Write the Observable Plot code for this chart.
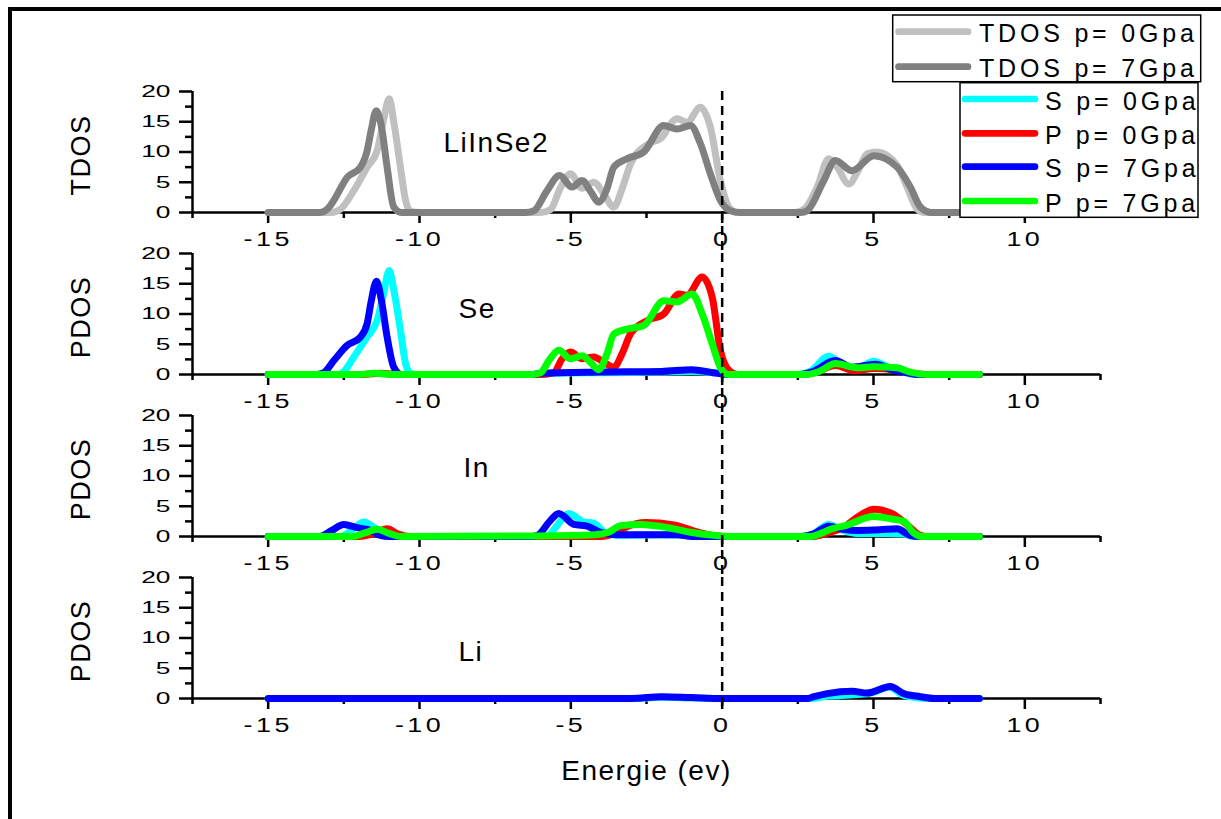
<!DOCTYPE html>
<html><head><meta charset="utf-8">
<script src="https://cdn.jsdelivr.net/npm/d3@7"></script>
<script src="https://cdn.jsdelivr.net/npm/@observablehq/plot@0.6"></script>
<style>
html,body{margin:0;padding:0;background:#fff;}
#wrap{position:relative;width:1221px;height:819px;overflow:hidden;background:#fff;font-family:"Liberation Sans",Arial,sans-serif;}
.panel{position:absolute;left:0;}
.panel g[aria-label="x-axis tick label"]{font-size:19.5px;letter-spacing:2.5px;}
.panel g[aria-label="y-axis tick label"]{font-size:17px;letter-spacing:0px;}
.frameTop{position:absolute;left:8px;top:7px;width:1213px;height:4px;background:#000;}
.frameLeft{position:absolute;left:8px;top:7px;width:4px;height:812px;background:#000;}
#legend{position:absolute;left:0;top:0;}
</style></head><body><div id="wrap"><div class="frameTop"></div><div class="frameLeft"></div></div>
<script>
// ---- tick values ----
const energyTicks = [-15, -10, -5, 0, 5, 10];
const energyMinorTicks = [-17.5, -12.5, -7.5, -2.5, 2.5, 7.5, 12.5];
const dosTicks = [0, 5, 10, 15, 20];
const dosMinorTicks = [2.5, 7.5, 12.5, 17.5];
const panelNames = ["LiInSe2", "Se", "In", "Li"];
const panelAxisTitles = ["TDOS", "PDOS", "PDOS", "PDOS"];
const xTitle = "Energie (ev)";
const seriesNames = ["TDOS p= 0Gpa", "TDOS p= 7Gpa", "S p= 0Gpa", "P p= 0Gpa", "S p= 7Gpa", "P p= 7Gpa"];

// ---- series: [energy (eV), DOS] ----
const tdos0 = [[-15,0],[-12.9,0],[-12.6,0.6],[-12.17,3.6],[-11.73,7.5],[-11.4,10.2],[-11.2,15],[-11.0,18.8],[-10.85,15],[-10.63,7.5],[-10.46,2],[-10.3,0.2],[-10.0,0],[-6.0,0],[-5.67,0.5],[-5.35,4],[-5.01,6.4],[-4.63,4],[-4.24,5.0],[-3.9,3],[-3.58,0.9],[-3.3,4],[-3.03,8.0],[-2.42,11.4],[-2.04,12.2],[-1.49,15.5],[-1.16,14.9],[-0.72,17.4],[-0.39,14.1],[-0.06,5.3],[0.22,0.9],[0.5,0],[2.4,0],[2.7,0.5],[3.14,4.2],[3.52,8.9],[3.8,7.5],[4.18,4.7],[4.5,7],[4.79,9.7],[5.12,10.0],[5.78,7.8],[6.11,4.2],[6.44,0.6],[6.7,0],[8.5,0]];
const tdos7 = [[-15,0],[-13.3,0],[-13.0,0.8],[-12.83,2],[-12.39,5.8],[-11.95,7.5],[-11.73,10.2],[-11.6,13.5],[-11.43,16.8],[-11.25,14],[-11.07,7.5],[-10.85,0.9],[-10.6,0],[-6.5,0],[-6.22,0.3],[-5.8,3.5],[-5.37,6.1],[-4.96,4.2],[-4.63,5.3],[-4.35,3.5],[-4.08,1.7],[-3.8,4],[-3.58,7.5],[-3.14,8.9],[-2.59,10.0],[-1.93,14.4],[-1.49,13.8],[-1.05,14.4],[-0.72,11.4],[-0.39,6.4],[-0.06,2],[0.27,0.3],[0.6,0],[2.6,0],[2.81,0.3],[3.36,5.3],[3.74,8.6],[4.29,6.9],[5.01,9.4],[5.78,7.5],[6.22,4.2],[6.55,0.9],[6.9,0],[8.5,0]];

const seS0 = [[-15,0],[-12.7,0],[-12.5,0.5],[-12.17,2.9],[-11.73,6.2],[-11.4,8.9],[-11.2,13],[-11.0,17.2],[-10.85,14],[-10.63,7.3],[-10.46,1.8],[-10.3,0.2],[-10.0,0],[-6,0],[-5.5,0.2],[-4,0.3],[-2,0.4],[-1,0.5],[0,0.2],[0.5,0],[2.5,0],[2.9,0.5],[3.52,3.0],[4.0,1.5],[4.4,0.9],[5.01,2.2],[5.5,1.2],[6.0,0.4],[6.4,0],[8.5,0]];
const seP0 = [[-15,0],[-12,0],[-11.3,0.2],[-10.5,0],[-6,0],[-5.56,0.3],[-5.3,2.5],[-5.01,3.7],[-4.63,2.6],[-4.24,2.9],[-3.9,2],[-3.58,1.2],[-3.3,3.5],[-3.03,6.7],[-2.48,8.9],[-1.93,10.0],[-1.43,13.3],[-1.16,13.1],[-0.66,16.1],[-0.33,12.8],[-0.06,4.0],[0.22,0.7],[0.5,0],[2.7,0],[3.1,0.4],[3.74,1.5],[4.4,0.6],[5.0,1.0],[5.7,0.8],[6.3,0.2],[6.8,0],[8.5,0]];
const seS7 = [[-15,0],[-13.4,0],[-13.16,0.3],[-12.83,2.3],[-12.39,4.8],[-11.95,6.2],[-11.73,8.4],[-11.6,12],[-11.42,15.4],[-11.25,12],[-11.07,6.2],[-10.85,1.2],[-10.6,0],[-6.3,0],[-6,0.2],[-4,0.4],[-2,0.5],[-1,0.8],[-0.3,0.3],[0.2,0],[2.6,0],[3.0,0.5],[3.74,2.3],[4.3,1.2],[5.06,1.7],[5.6,0.8],[6.2,0.2],[6.5,0],[8.5,0]];
const seP7 = [[-15,0],[-12,0],[-11.5,0.2],[-10.8,0],[-6.3,0],[-6.0,0.3],[-5.7,2.5],[-5.4,4.0],[-5.01,2.6],[-4.63,3.1],[-4.35,2.0],[-4.08,0.8],[-3.8,3.5],[-3.58,6.7],[-3.14,7.5],[-2.59,8.1],[-1.93,12.2],[-1.49,12.0],[-0.99,13.3],[-0.66,10.0],[-0.33,5.1],[-0.06,1.2],[0.2,0],[2.8,0],[3.2,0.5],[3.74,1.8],[4.46,1.1],[5.0,1.3],[5.78,1.1],[6.22,0.4],[6.8,0],[8.5,0]];

const inS0 = [[-15,0],[-12.6,0],[-12.2,1.2],[-11.84,2.4],[-11.5,1.5],[-11.2,0.2],[-11,0],[-5.8,0],[-5.5,1.5],[-5.07,3.8],[-4.57,2.4],[-4.24,2.2],[-3.8,0.4],[-3.4,0.2],[-2,0.3],[-1,0.2],[0,0],[2.6,0],[3.0,0.4],[3.52,2.0],[3.9,1.2],[4.46,0.5],[5.5,0.5],[6.0,0.4],[6.3,0],[8.5,0]];
const inP0 = [[-15,0],[-12,0],[-11.5,0.5],[-11.07,1.3],[-10.7,0.4],[-10.3,0],[-4,0],[-3.58,0.5],[-3.2,1.5],[-2.53,2.3],[-1.6,1.9],[-0.72,0.6],[0,0],[3.0,0],[3.5,0.6],[4.0,1.5],[4.5,3.3],[5.01,4.5],[5.6,3.8],[6.1,2.0],[6.5,0.3],[6.8,0],[8.5,0]];
const inS7 = [[-15,0],[-13.3,0],[-12.9,1.0],[-12.5,2.0],[-12.1,1.5],[-11.6,1.0],[-11.3,0.2],[-11,0],[-6.3,0],[-6.1,0.2],[-5.7,2.5],[-5.4,3.8],[-4.9,2.0],[-4.46,1.7],[-4.02,0.7],[-3.5,0.3],[-1.5,0.3],[-1,0],[2.6,0],[3.0,0.4],[3.52,1.7],[4.0,1.2],[4.46,1.0],[5.2,1.1],[5.78,1.3],[6.2,0.2],[6.5,0],[8.5,0]];
const inP7 = [[-15,0],[-12.2,0],[-11.8,0.6],[-11.4,1.2],[-11.0,0.5],[-10.6,0],[-6,0.1],[-4.2,0.3],[-3.75,0.7],[-3.36,1.8],[-2.7,2.0],[-1.82,1.5],[-1.05,0.7],[-0.28,0.2],[0.3,0],[2.9,0],[3.3,0.6],[3.58,1.2],[4.13,1.9],[5.0,3.3],[5.6,2.9],[6.0,2.5],[6.33,0.6],[6.6,0],[8.5,0]];

const liS0 = [[-15,0],[-3,0],[-2,0.2],[-1,0.1],[0,0],[2.9,0],[3.5,0.4],[4.3,0.6],[5.0,1.0],[5.5,1.9],[6.0,0.5],[6.5,0.1],[7,0],[8.5,0]];
const liS7 = [[-15,0],[-3,0],[-2,0.3],[-1,0.15],[0,0],[2.8,0],[3.03,0.3],[3.47,0.8],[4.29,1.2],[4.79,0.9],[5.56,2.0],[6.0,0.8],[6.55,0.3],[7.0,0],[8.5,0]];

// ---- styles ----
const seriesColors = ["#c0c0c0", "#808080", "#00ffff", "#ff0000", "#0000ff", "#00ff00"];
const FONT = "'Liberation Sans', Arial, sans-serif";
const LINE_W = 7;

const panels = [
  {series: [[0, tdos0], [1, tdos7]], top: 81, lx: 251, ly: 60, dashEnd: -6.7},
  {series: [[2, seS0], [3, seP0], [4, seS7], [5, seP7]], top: 243, lx: 266, ly: 64, dashEnd: -6.7},
  {series: [[2, inS0], [3, inP0], [4, inS7], [5, inP7]], top: 405, lx: 271, ly: 61, dashEnd: -6.7},
  {series: [[2, liS0], [4, liS7]], top: 566.5, lx: 266, ly: 83.5, dashEnd: -1.7}
];

const wrap = document.getElementById("wrap");
const fmt = d => String(d);

function stretch(svg, label, s) {
  svg.querySelectorAll(`g[aria-label="${label}"] text`).forEach(t => {
    const tr = t.getAttribute("transform");
    if (tr) t.setAttribute("transform", tr + ` scale(${s},1)`);
    else {
      const x = +t.getAttribute("x") || 0, y = +t.getAttribute("y") || 0;
      t.setAttribute("transform", `translate(${x},${y}) scale(${s},1) translate(${-x},${-y})`);
    }
  });
}

panels.forEach((p, pi) => {
  const rows = p.series.flatMap(([si, arr]) => arr.map(([E, v]) => ({E, dos: v, series: seriesNames[si]})));
  const marks = [
    Plot.ruleY([0], {stroke: "#000", strokeWidth: 2.5}),
    Plot.ruleX([-17.5], {y1: 0, y2: 20, stroke: "#000", strokeWidth: 2.5}),
    Plot.axisX(energyTicks, {tickSize: 11, tickPadding: 9, strokeWidth: 2.5, tickFormat: fmt, label: null}),
    Plot.axisX(energyMinorTicks, {tickSize: 6, tickFormat: () => "", strokeWidth: 2.5, label: null}),
    Plot.axisY(dosTicks, {tickSize: 13, tickPadding: 9, strokeWidth: 2.5, tickFormat: fmt, label: null}),
    Plot.axisY(dosMinorTicks, {tickSize: 7, tickFormat: () => "", strokeWidth: 2.5, label: null}),
    Plot.line(rows, {x: "E", y: "dos", z: "series", stroke: "series", strokeWidth: LINE_W, curve: "monotone-x", strokeLinecap: "round", strokeLinejoin: "round"}),
    Plot.ruleX([0], {y1: 20, y2: p.dashEnd, stroke: "#000", strokeWidth: 2.5, strokeDasharray: "9,6"}),
    Plot.text([panelNames[pi]], {text: d => d, frameAnchor: "top-left", dx: p.lx, dy: p.ly, textAnchor: "start", lineAnchor: "bottom", fontSize: 28}),
    Plot.text([panelAxisTitles[pi]], {text: d => d, frameAnchor: "left", dx: -111, dy: 3, rotate: -90, textAnchor: "middle", lineAnchor: "middle", fontSize: 27})
  ];
  if (pi === panels.length - 1) {
    marks.push(Plot.text([xTitle], {text: d => d, frameAnchor: "bottom", dy: 81, textAnchor: "middle", lineAnchor: "bottom", fontSize: 28}));
  }
  const svg = Plot.plot({
    width: 1221, height: 161,
    marginLeft: 192, marginRight: 121, marginTop: 10, marginBottom: 30,
    style: {background: "transparent", overflow: "visible", fontFamily: FONT, color: "#000", letterSpacing: "1.5px"},
    x: {domain: [-17.5, 12.5]},
    y: {domain: [0, 20]},
    color: {domain: seriesNames, range: seriesColors},
    marks
  });
  svg.classList.add("panel");
  svg.style.top = p.top + "px";
  svg.style.position = "absolute";
  svg.style.left = "0px";
  svg.style.maxWidth = "none";
  svg.querySelectorAll('g[aria-label="line"] path').forEach(path => {
    path.setAttribute("stroke-width", LINE_W);
    path.style.strokeWidth = LINE_W + "px";
  });
  stretch(svg, "x-axis tick label", 1.38);
  stretch(svg, "y-axis tick label", 1.55);
  wrap.appendChild(svg);
});

// ---- legend ----
const lsvg = d3.select(wrap).append("svg").attr("id", "legend").attr("width", 1221).attr("height", 819)
  .style("font-family", FONT).style("font-size", "25px").style("letter-spacing", "3.8px");
const boxes = [
  {x: 892.7, y: 15, w: 308, h: 66.7, lx1: 898.5, lx2: 968, tx: 979, items: [[0, 31.7], [1, 66.7]]},
  {x: 960, y: 82.7, w: 238, h: 134.6, lx1: 965, lx2: 1035, tx: 1045, items: [[2, 99], [3, 133.3], [4, 166.7], [5, 201]]}
];
boxes.forEach(b => {
  lsvg.append("rect").attr("x", b.x).attr("y", b.y).attr("width", b.w).attr("height", b.h)
    .attr("fill", "#fff").attr("stroke", "#000").attr("stroke-width", 1.5);
  b.items.forEach(([si, y]) => {
    lsvg.append("line").attr("x1", b.lx1).attr("x2", b.lx2).attr("y1", y).attr("y2", y)
      .attr("stroke", seriesColors[si]).attr("stroke-width", 6.7).attr("stroke-linecap", "round");
    lsvg.append("text").attr("x", b.tx).attr("y", y + 10.5).text(seriesNames[si]);
  });
});
</script></body></html>
